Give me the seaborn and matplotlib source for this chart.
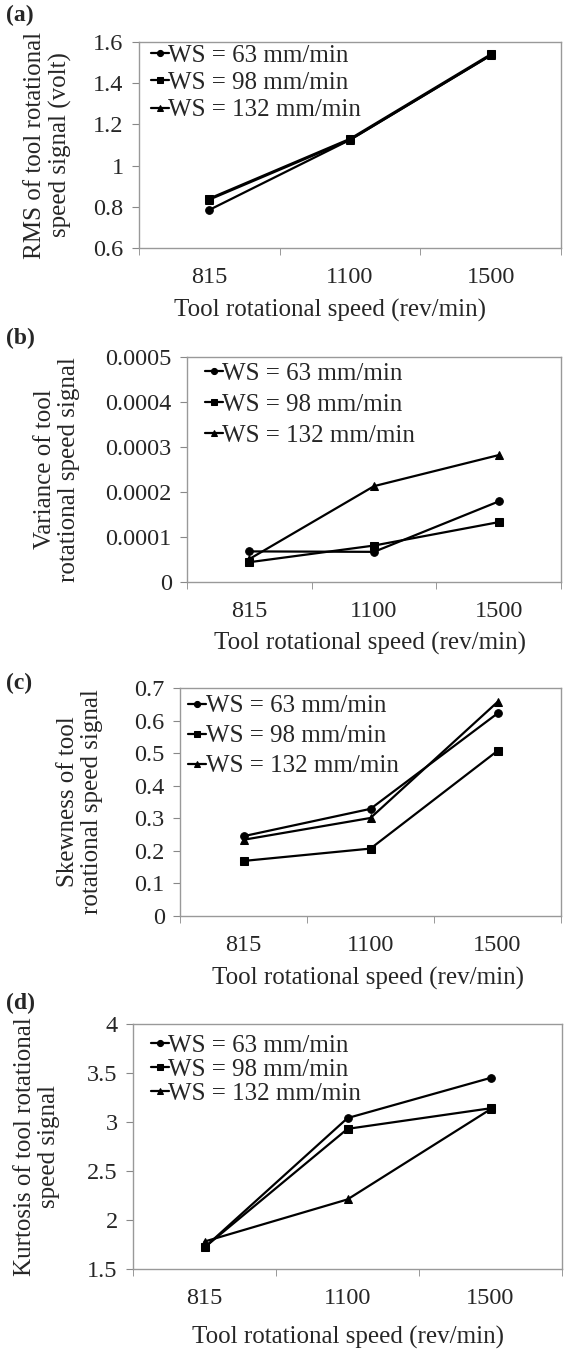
import pandas as pd
import seaborn as sns
import matplotlib.pyplot as plt
from matplotlib.ticker import FixedLocator

sns.set_style("white")
plt.rcParams['font.family'] = ['Liberation Serif', 'DejaVu Serif']

speeds = ['815', '1100', '1500']
series = ['WS = 63 mm/min', 'WS = 98 mm/min', 'WS = 132 mm/min']

# values
rms_63 = [0.785, 1.125, 1.535]
rms_98 = [0.84, 1.13, 1.54]
rms_132 = [0.835, 1.125, 1.535]

var_63 = [0.000068, 0.000067, 0.000179]
var_98 = [0.000044, 0.000081, 0.000133]
var_132 = [0.000051, 0.000213, 0.000282]

skew_63 = [0.245, 0.329, 0.622]
skew_98 = [0.169, 0.207, 0.507]
skew_132 = [0.234, 0.301, 0.657]

kurt_63 = [1.72, 3.04, 3.45]
kurt_98 = [1.72, 2.93, 3.14]
kurt_132 = [1.78, 2.21, 3.13]

rms_ticks = [0.6, 0.8, 1.0, 1.2, 1.4, 1.6]
rms_labels = ['0.6', '0.8', '1', '1.2', '1.4', '1.6']
var_ticks = [0, 0.0001, 0.0002, 0.0003, 0.0004, 0.0005]
var_labels = ['0', '0.0001', '0.0002', '0.0003', '0.0004', '0.0005']
skew_ticks = [0, 0.1, 0.2, 0.3, 0.4, 0.5, 0.6, 0.7]
skew_labels = ['0', '0.1', '0.2', '0.3', '0.4', '0.5', '0.6', '0.7']
kurt_ticks = [1.5, 2, 2.5, 3, 3.5, 4]
kurt_labels = ['1.5', '2', '2.5', '3', '3.5', '4']

# tag, data, ticks, labels, ylabel, axes box (px), tag y, ylabel x, xlabel x, xlabel y,
# legend left / top offset (px), legend row spacing
panels = [
    ('(a)', [rms_63, rms_98, rms_132], rms_ticks, rms_labels,
     'RMS of tool rotational\nspeed signal (volt)', [139, 42, 561, 248], 15, 48, 330, 310,
     12, 2, 0.2),
    ('(b)', [var_63, var_98, var_132], var_ticks, var_labels,
     'Variance of tool\nrotational speed signal', [187, 357, 561, 582], 338, 57, 370, 643,
     18, 5, 0.35),
    ('(c)', [skew_63, skew_98, skew_132], skew_ticks, skew_labels,
     'Skewness of tool\nrotational speed signal', [180, 688, 561, 916], 683, 80, 368, 978,
     8, 7, 0.3),
    ('(d)', [kurt_63, kurt_98, kurt_132], kurt_ticks, kurt_labels,
     'Kurtosis of tool rotational\nspeed signal', [133, 1024, 562, 1269], 1003, 37, 348, 1337,
     18, 10, 0.06),
]

W, H = 564, 1353
fig = plt.figure(figsize=(W / 100, H / 100), dpi=100)
markers = {series[0]: 'o', series[1]: 's', series[2]: '^'}
tick_fs = 17.5
lab_fs = 18

for tag, vals, ticks, labels, ylabel, box, ty, ylx, xlx, xly, lgx, lgy, lgsp in panels:
    x0, y0, x1, y1 = box
    ax = fig.add_axes([x0 / W, 1 - y1 / H, (x1 - x0) / W, (y1 - y0) / H])
    df = pd.DataFrame({
        'speed': speeds * 3,
        'value': vals[0] + vals[1] + vals[2],
        'WS': [s for s in series for _ in speeds],
    })
    sns.lineplot(data=df, x='speed', y='value', hue='WS', style='WS',
                 palette=['black'] * 3, markers=markers, dashes=False,
                 markersize=5.5, markeredgecolor='black', linewidth=1.6, ax=ax)
    ax.set_xlim(-0.5, 2.5)
    ax.set_ylim(ticks[0], ticks[-1])
    ax.yaxis.set_major_locator(FixedLocator(ticks))
    ax.set_yticklabels(labels)
    ax.set_xticks([0, 1, 2])
    ax.set_xticklabels(speeds)
    ax.xaxis.set_minor_locator(FixedLocator([-0.5, 0.5, 1.5, 2.5]))
    ax.tick_params(axis='x', which='major', length=0, pad=14, labelsize=tick_fs)
    ax.tick_params(axis='x', which='minor', length=5, color='#888888',
                   direction='out', bottom=True)
    ax.tick_params(axis='y', length=5, color='#888888', direction='out',
                   left=True, labelsize=tick_fs, pad=6)
    for sp in ax.spines.values():
        sp.set_color('#999999')
        sp.set_linewidth(1.0)
    ax.set_xlabel('Tool rotational speed (rev/min)', fontsize=lab_fs, va='center')
    ax.xaxis.set_label_coords((xlx - x0) / (x1 - x0), -(xly - y1) / (y1 - y0))
    ax.set_ylabel(ylabel, fontsize=lab_fs, va='center', linespacing=1.15)
    ax.yaxis.set_label_coords((ylx - x0) / (x1 - x0), 0.5)
    for line in ax.get_lines():
        line.set_markeredgecolor('black')
    leg = ax.legend(loc='upper left', frameon=False, fontsize=lab_fs,
                    handlelength=0.7, handletextpad=0.0, labelspacing=lgsp,
                    borderaxespad=0.0, borderpad=0.0, markerscale=0.8,
                    bbox_to_anchor=(lgx / (x1 - x0), 1 - lgy / (y1 - y0)))
    for h in leg.legend_handles:
        h.set_markeredgecolor('black')
    fig.text(6 / W, 1 - ty / H, tag, fontsize=17, fontweight='bold',
             va='center', ha='left')

fig.savefig('out.png', dpi=100)
